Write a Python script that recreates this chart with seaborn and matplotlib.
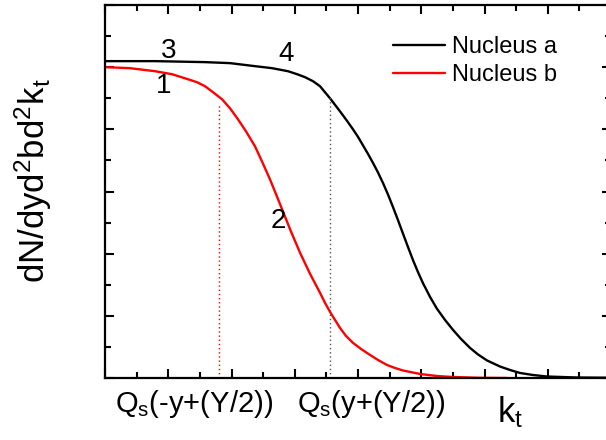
import numpy as np
import pandas as pd
import seaborn as sns
import matplotlib.pyplot as plt
from matplotlib.ticker import MultipleLocator

# values (arbitrary units)
x_a = [0.000, 0.791, 1.581, 1.976, 2.372, 2.640, 2.893, 3.036, 3.162, 3.289, 3.399,
       3.478, 3.557, 3.636, 3.715, 3.826, 3.921, 4.000, 4.079, 4.158, 4.237, 4.316,
       4.395, 4.474, 4.553, 4.632, 4.711, 4.791, 4.870, 4.949, 5.028, 5.138, 5.249,
       5.375, 5.502, 5.628, 5.771, 5.897, 6.040, 6.245, 6.403, 6.561, 6.767, 6.988,
       7.225, 7.462, 8.000]
y_a = [5.097, 5.097, 5.081, 5.065, 5.016, 4.984, 4.935, 4.887, 4.839, 4.774, 4.694,
       4.597, 4.500, 4.395, 4.290, 4.137, 4.000, 3.879, 3.742, 3.605, 3.460, 3.306,
       3.137, 2.952, 2.750, 2.540, 2.323, 2.105, 1.895, 1.702, 1.524, 1.306, 1.113,
       0.935, 0.774, 0.629, 0.484, 0.379, 0.282, 0.185, 0.129, 0.081, 0.048, 0.024,
       0.016, 0.008, 0.004]

x_b = [0.000, 0.395, 0.791, 1.059, 1.312, 1.455, 1.581, 1.708, 1.850, 1.976, 2.103,
       2.229, 2.372, 2.482, 2.609, 2.719, 2.814, 2.941, 3.083, 3.241, 3.399, 3.478,
       3.557, 3.636, 3.715, 3.810, 3.921, 4.047, 4.190, 4.316, 4.458, 4.585, 4.711,
       4.980, 5.249, 5.502, 5.929, 6.356]
y_b = [5.000, 4.984, 4.935, 4.887, 4.806, 4.758, 4.694, 4.597, 4.484, 4.339, 4.161,
       3.968, 3.726, 3.484, 3.194, 2.919, 2.677, 2.355, 2.016, 1.677, 1.371, 1.210,
       1.065, 0.935, 0.806, 0.677, 0.565, 0.468, 0.371, 0.290, 0.210, 0.161, 0.121,
       0.065, 0.032, 0.016, 0.003, 0.000]

series_names = ["Nucleus a", "Nucleus b"]

qs_minus = 1.80   # Q_s(-y+(Y/2))
qs_plus = 3.56    # Q_s(y+(Y/2))
qs_minus_top = 4.40
qs_plus_top = 4.53

point_labels = ["3", "1", "4", "2"]
point_x = [1.00, 0.92, 2.86, 2.74]
point_y = [5.26, 4.69, 5.21, 2.52]

qs_labels = [r"Q$_\mathregular{s}$(-y+(Y/2))", r"Q$_\mathregular{s}$(y+(Y/2))"]
qs_label_x = [0.16, 3.04]

df = pd.concat([
    pd.DataFrame({"kt": x_a, "dN": y_a, "nucleus": series_names[0]}),
    pd.DataFrame({"kt": x_b, "dN": y_b, "nucleus": series_names[1]}),
])

sns.set_style("ticks")
plt.rcParams["font.family"] = ["Liberation Sans", "DejaVu Sans"]
plt.rcParams["mathtext.default"] = "regular"
plt.rcParams["text.color"] = "black"
plt.rcParams["axes.labelcolor"] = "black"

fig = plt.figure(figsize=(6.06, 4.40), dpi=100)
ax = fig.add_axes([105 / 606, 62 / 440, 506 / 606, 373 / 440])

sns.lineplot(data=df, x="kt", y="dN", hue="nucleus", palette=["black", "red"],
             linewidth=1.7, sort=False, ax=ax)

# dotted markers for the two saturation scales
ax.plot([qs_minus, qs_minus], [0, qs_minus_top], color="red", lw=1.0, ls=(0, (1, 2)))
ax.plot([qs_plus, qs_plus], [0, qs_plus_top], color="#555555", lw=1.0, ls=(0, (1, 2)))

for t, px, py in zip(point_labels, point_x, point_y):
    ax.text(px, py, t, fontsize=20, ha="center", va="center")

for t, px in zip(qs_labels, qs_label_x):
    ax.text(px, -0.55, t, fontsize=21, ha="left", va="baseline", clip_on=False)

ax.text(6.4, -0.71, r"k$_\mathregular{t}$", fontsize=25, ha="center", va="baseline", clip_on=False)

ax.set_xlim(0, 8)
ax.set_ylim(0, 6)
ax.xaxis.set_major_locator(MultipleLocator(1))
ax.xaxis.set_minor_locator(MultipleLocator(0.5))
ax.yaxis.set_major_locator(MultipleLocator(1))
ax.yaxis.set_minor_locator(MultipleLocator(0.5))
ax.tick_params(which="both", direction="in", top=True, right=True,
               labelbottom=False, labelleft=False, width=1.5, color="black")
ax.tick_params(which="major", length=6.5)
ax.tick_params(which="minor", length=4)
for s in ax.spines.values():
    s.set_linewidth(1.6)
    s.set_color("black")

ax.set_xlabel("")
ax.set_ylabel(r"dN/dyd$^2$bd$^2$k$_\mathregular{t}$", fontsize=25)
ax.yaxis.set_label_coords(-0.10, 0.53)

ax.legend(loc="upper left", bbox_to_anchor=(0.569, 0.917), frameon=False, fontsize=17,
          borderpad=0, borderaxespad=0, handlelength=2.2, handletextpad=0.3,
          labelspacing=0.25, title=None)

fig.savefig("out.png", dpi=100)
